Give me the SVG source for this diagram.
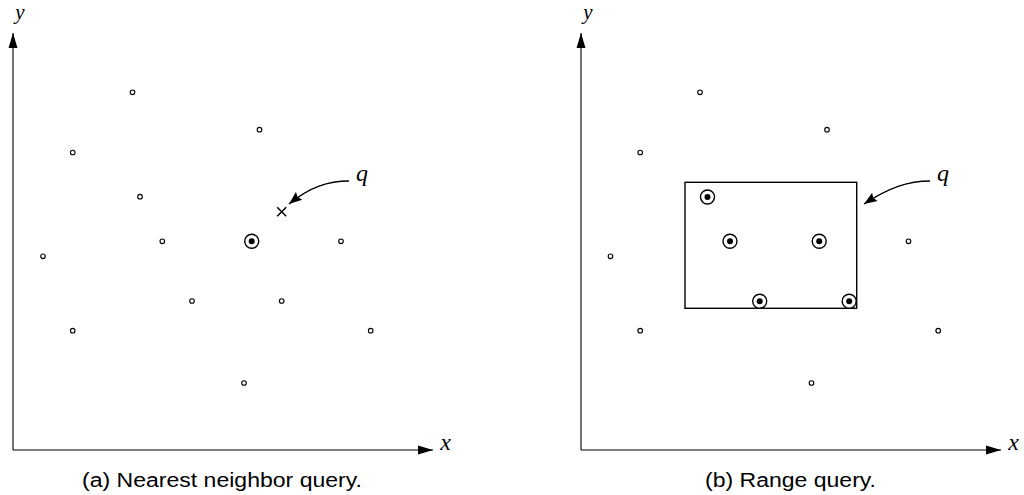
<svg xmlns="http://www.w3.org/2000/svg" width="1024" height="495" viewBox="0 0 1024 495">
<style>
.ax{stroke:#000;stroke-width:1.1;fill:none}
.pt{fill:#fff;stroke:#000;stroke-width:1.1}
.hl{fill:#fff;stroke:#000;stroke-width:1.4}
.dot{fill:#000;stroke:none}
.math{font-family:"Liberation Serif","DejaVu Serif",serif;font-style:italic;font-size:24px;fill:#000}
.ylab{font-size:21px}
.cap{font-family:"Liberation Sans","DejaVu Sans",sans-serif;font-size:20px;fill:#000}
.curve{stroke:#000;stroke-width:1.4;fill:none}
</style>
<defs>
<marker id="axhead" markerUnits="userSpaceOnUse" markerWidth="16" markerHeight="10" viewBox="-15 -5 16 10" refX="0" refY="0" orient="auto">
<path d="M0,0 L-15,-4.5 L-15,4.5 Z" fill="#000"/>
</marker>
<marker id="qhead" markerUnits="userSpaceOnUse" markerWidth="16" markerHeight="12" viewBox="-15 -6 16 12" refX="0" refY="0" orient="auto">
<path d="M0,0 L-13,-5 L-11,0 L-13,5 Z" fill="#000"/>
</marker>
<g id="hlpt">
<circle cx="0" cy="0" r="7" class="hl"/>
<circle cx="0" cy="0" r="3" class="dot"/>
</g>
</defs>
<rect width="1024" height="495" fill="#fff"/>

<!-- Panel (a) -->
<g id="panel-a">
<g id="axes-a">
<line x1="13" y1="450" x2="13" y2="33" class="ax" marker-end="url(#axhead)"/>
<line x1="13" y1="450" x2="433" y2="450" class="ax" marker-end="url(#axhead)"/>
<text x="20" y="19" class="math ylab" text-anchor="middle">y</text>
<text x="445.5" y="450" class="math" text-anchor="middle">x</text>
</g>
<g id="points-a">
<circle cx="132.5" cy="92.3" r="2.3" class="pt"/>
<circle cx="259.5" cy="129.7" r="2.3" class="pt"/>
<circle cx="72.7" cy="152.5" r="2.3" class="pt"/>
<circle cx="140" cy="196.7" r="2.3" class="pt"/>
<circle cx="162.3" cy="241.3" r="2.3" class="pt"/>
<circle cx="341" cy="241.3" r="2.3" class="pt"/>
<circle cx="43" cy="256.3" r="2.3" class="pt"/>
<circle cx="192" cy="301" r="2.3" class="pt"/>
<circle cx="281.7" cy="301" r="2.3" class="pt"/>
<circle cx="72.7" cy="330.7" r="2.3" class="pt"/>
<circle cx="370.7" cy="330.7" r="2.3" class="pt"/>
<circle cx="244" cy="383" r="2.3" class="pt"/>
</g>
<g id="nn-a"><use href="#hlpt" x="251.7" y="241.3"/></g>
<g id="query-a">
<path d="M277.2,207.2 L286.2,216.2 M286.2,207.2 L277.2,216.2" stroke="#000" stroke-width="1.5" fill="none"/>
<text x="362" y="181" class="math" text-anchor="middle">q</text>
</g>
</g>

<!-- Panel (b) -->
<g id="panel-b">
<g id="axes-b">
<line x1="581" y1="450" x2="581" y2="33" class="ax" marker-end="url(#axhead)"/>
<line x1="581" y1="450" x2="1001" y2="450" class="ax" marker-end="url(#axhead)"/>
<text x="588" y="19" class="math ylab" text-anchor="middle">y</text>
<text x="1013.5" y="450" class="math" text-anchor="middle">x</text>
</g>
<g id="points-b">
<circle cx="700" cy="92.3" r="2.3" class="pt"/>
<circle cx="827" cy="129.7" r="2.3" class="pt"/>
<circle cx="640.2" cy="152.5" r="2.3" class="pt"/>
<circle cx="908.5" cy="241.3" r="2.3" class="pt"/>
<circle cx="610.5" cy="256.3" r="2.3" class="pt"/>
<circle cx="640.2" cy="330.7" r="2.3" class="pt"/>
<circle cx="938.2" cy="330.7" r="2.3" class="pt"/>
<circle cx="811.5" cy="383" r="2.3" class="pt"/>
</g>
<g id="range-b">
<rect x="685" y="182.3" width="171.7" height="126" fill="none" stroke="#000" stroke-width="1.4"/>
<text x="943" y="181" class="math" text-anchor="middle">q</text>
</g>
<g id="hits-b">
<use href="#hlpt" x="707.5" y="197"/>
<use href="#hlpt" x="730" y="241.3"/>
<use href="#hlpt" x="819.2" y="241.3"/>
<use href="#hlpt" x="759.7" y="301.2"/>
<use href="#hlpt" x="849.2" y="301.2"/>
</g>
</g>

<g id="connectors">
<path d="M349,181 C328,181 310,187 289,204" class="curve" marker-end="url(#qhead)"/>
<path d="M930,181 C909,181 890,187 864,204" class="curve" marker-end="url(#qhead)"/>
</g>

<g id="captions">
<text x="82" y="487" class="cap" textLength="280" lengthAdjust="spacingAndGlyphs">(a) Nearest neighbor query.</text>
<text x="705" y="487" class="cap" textLength="171" lengthAdjust="spacingAndGlyphs">(b) Range query.</text>
</g>
</svg>
